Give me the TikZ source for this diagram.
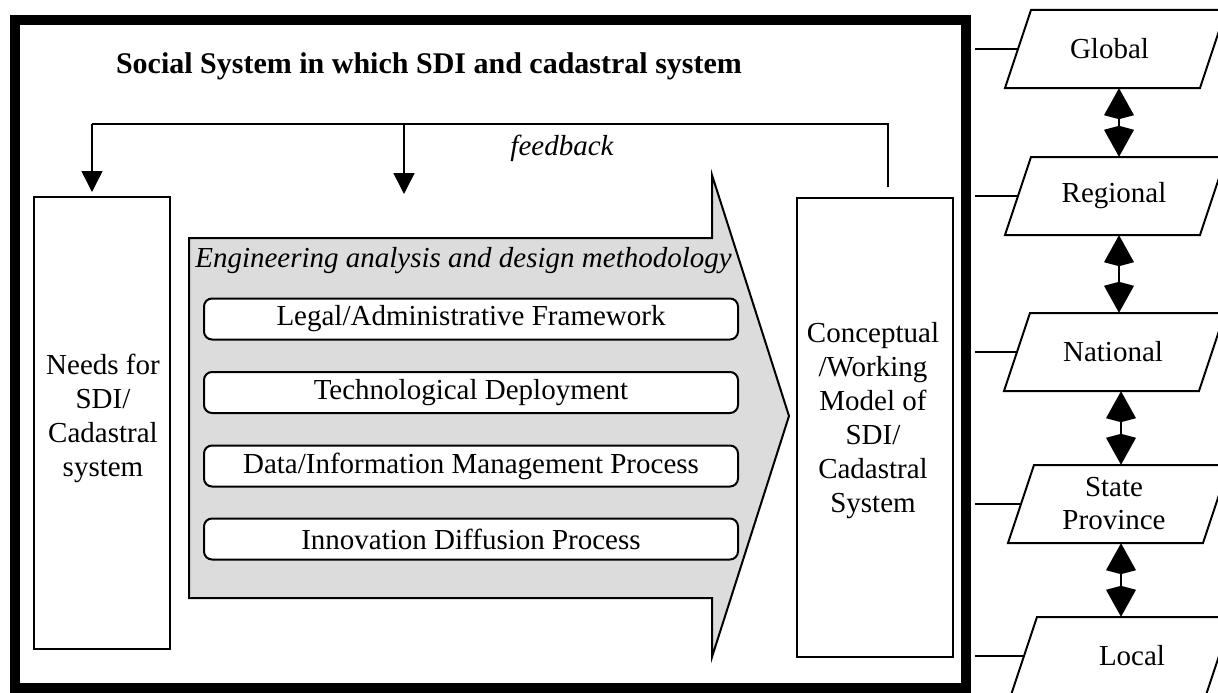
\documentclass[tikz,border=0pt]{standalone}
\usepackage{fontspec}
\setmainfont{Liberation Serif}
\usetikzlibrary{arrows.meta,calc}
\definecolor{arrowgray}{HTML}{DCDCDC}
\begin{document}
\begin{tikzpicture}[x=1pt,y=-1pt,
  every node/.style={font=\fontsize{29}{35}\selectfont, inner sep=0pt},
  box/.style={draw, line width=2pt, fill=white},
  txt/.style={align=center},
  pill/.style={draw, line width=2pt, rounded corners=8pt, fill=white, minimum width=534pt, minimum height=41pt},
  lvl/.style={minimum height=78pt, align=center, font=\fontsize{29}{33}\selectfont},
  para/.style={line width=2pt},
  fb/.style={line width=1.5pt},
  fbarrow/.style={fb,-{Triangle[width=21pt,length=21pt]}},
  dbl/.style={line width=2.5pt,{Kite[width=30pt,length=31pt,inset=4pt]}-{Kite[width=30pt,length=31pt,inset=4pt]}},
  tick/.style={line width=2pt},
]
\useasboundingbox (0,0) rectangle (1218,693);

% outer frame
\node[draw, line width=10pt, minimum width=951pt, minimum height=668pt, outer sep=0pt] (frame) at (490.5,354) {};

% title
\node[font=\fontsize{30}{36}\selectfont\bfseries, anchor=base] (title) at (429,74) {Social System in which SDI and cadastral system};

% boxes
\node[box, minimum width=136pt, minimum height=452pt] (needs) at (102,423) {};
\node[txt, font=\fontsize{29}{34}\selectfont] (needstext) at (103,418) {Needs for\\SDI/\\Cadastral\\system};
\node[box, minimum width=156pt, minimum height=459pt] (model) at (875,427.5) {};
\node[txt, font=\fontsize{29}{34}\selectfont] (modeltext) at (873,421) {Conceptual\\/Working\\Model of\\SDI/\\Cadastral\\System};

% big arrow
\draw[line width=2pt, fill=arrowgray] (189,238) -- (712,238) -- (712,175) -- (789,416) -- (712,657) -- (712,598) -- (189,598) -- cycle;
\node[font=\fontsize{29}{35}\selectfont\itshape, anchor=base] (eng) at (463.5,267) {Engineering analysis and design methodology};

\node[pill] (legal) at (471,319) {Legal/Administrative Framework};
\node[pill] (tech) at (471,392.5) {Technological Deployment};
\node[pill] (data) at (471,466) {Data/Information Management Process};
\node[pill] (innov) at (471,539) {Innovation Diffusion Process};

% feedback
\coordinate (fbR) at (888,124);
\coordinate (fbL) at (92,124);
\coordinate (fbM) at (404,124);
\coordinate (fbMend) at (404,194);
\coordinate (fbStart) at (888,187);
\draw[fb] (fbStart) -- (fbR) -- (fbL);
\draw[fbarrow, shorten >=4pt] (fbL) -- (fbL |- needs.north);
\draw[fbarrow] (fbM) -- (fbMend);
\node[font=\fontsize{29}{35}\selectfont\itshape, anchor=base] (fblabel) at (562,155) {feedback};

% levels
\node[lvl] (glo) at (1115.5,49) {\hspace*{-12pt}Global};
\node[lvl] (reg) at (1115.5,196) {\hspace*{-3pt}Regional};
\node[lvl] (nat) at (1114.5,352) {\hspace*{-3pt}National};
\node[lvl] (sta) at (1118.5,504) {\hspace*{-9pt}State\\\hspace*{-9pt}Province};
\node[lvl] (loc) at (1121.5,656) {\hspace*{21pt}Local};

\foreach \n in {glo,reg,nat,sta,loc}{
  \draw[para] ($(\n.center)+(-110.5,39)$) -- ++(195,0) -- ++(26,-78) -- ++(-195,0) -- cycle;
  \draw[tick] ($(frame.east |- \n.center)+(9,0)$) -- ($(\n.center)+(-97.5,0)$);
}

\coordinate (ax) at (1119,0);
\coordinate (bx) at (1121,0);
\draw[dbl] (glo.south -| ax) -- (reg.north -| ax);
\draw[dbl] (reg.south -| ax) -- (nat.north -| ax);
\draw[dbl] (nat.south -| bx) -- (sta.north -| bx);
\draw[dbl] (sta.south -| bx) -- (loc.north -| bx);
\end{tikzpicture}
\end{document}
